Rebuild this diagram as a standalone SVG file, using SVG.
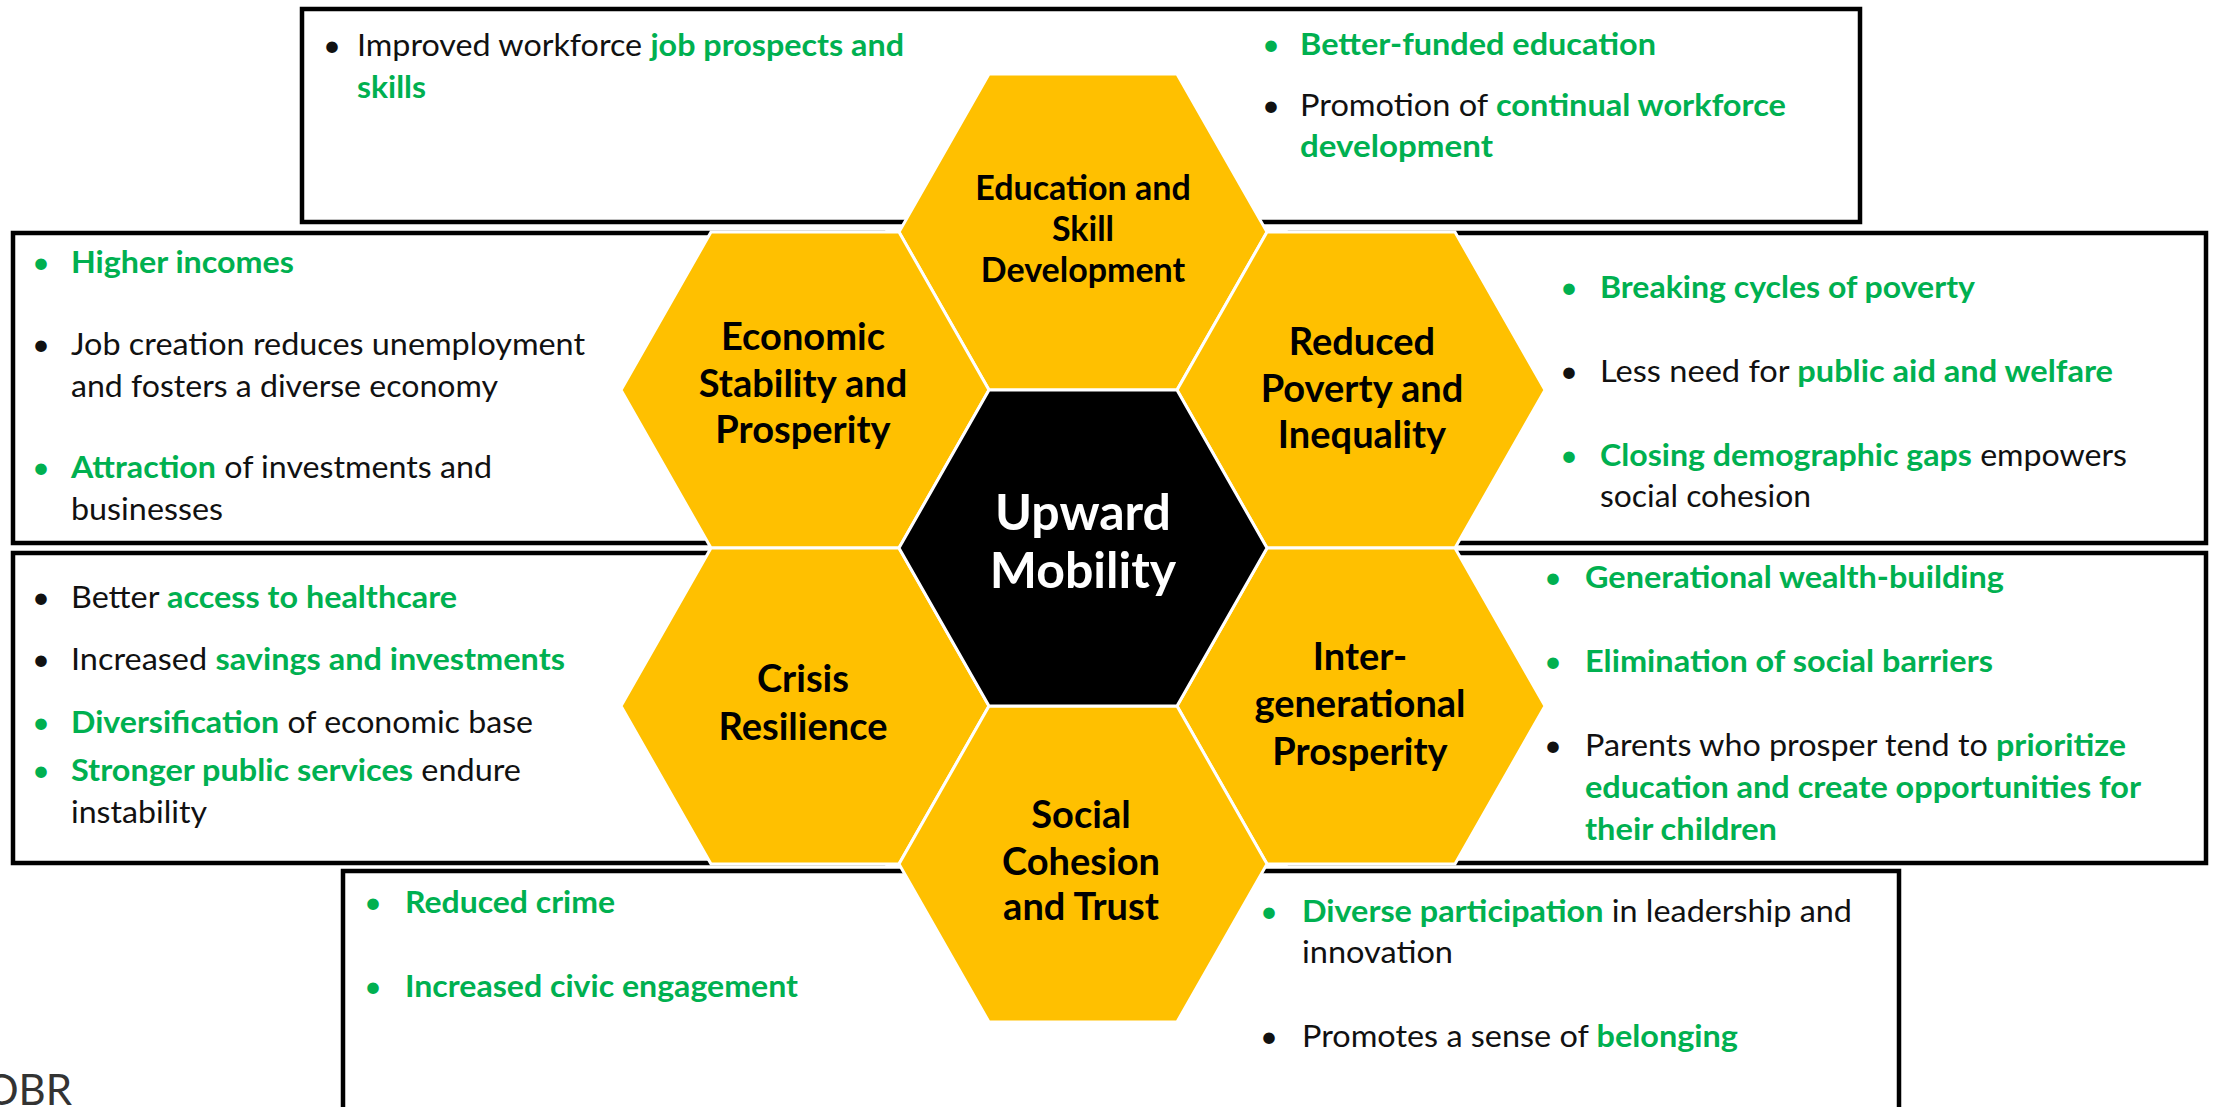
<svg xmlns="http://www.w3.org/2000/svg" width="2216" height="1107" viewBox="0 0 2216 1107">
<style>
.box{fill:#fff;stroke:#000;stroke-width:4.5}
.hex{fill:#FFC000;stroke:#fff;stroke-width:3}
.core{fill:#000;stroke:#fff;stroke-width:3}
.t{font-family:Lato,"Liberation Sans",sans-serif;font-size:31px;fill:#111}
.g{fill:#00B050;font-weight:700}
.b{font-family:Lato,"Liberation Sans",sans-serif;font-size:31px;text-anchor:middle}
.bk{fill:#111}
.bg{fill:#00B050}
.hl{font-family:Lato,"Liberation Sans",sans-serif;font-weight:700;font-size:38px;text-anchor:middle;fill:#000}
.hl.hs{font-size:34px}
.up{font-family:Lato,"Liberation Sans",sans-serif;font-weight:700;font-size:50px;text-anchor:middle;fill:#fff}
</style>
<defs>
<path id="hexshape" d="M-94,-158 L94,-158 L184,0 L94,158 L-94,158 L-184,0 Z"/>
</defs>
<rect width="2216" height="1107" fill="#fff"/>

<g id="boxes">
<g id="box-education">
<rect class="box" x="302" y="9" width="1558" height="213"/>
<text class="b bk" x="332" y="56">•</text>
<text class="t" x="357" y="56" textLength="547" lengthAdjust="spacingAndGlyphs">Improved workforce <tspan class="g">job prospects and</tspan></text>
<text class="t g" x="357" y="98" textLength="69" lengthAdjust="spacingAndGlyphs">skills</text>
<text class="b bg" x="1271" y="55">•</text>
<text class="t g" x="1300" y="55" textLength="356" lengthAdjust="spacingAndGlyphs">Better-funded education</text>
<text class="b bk" x="1271" y="116">•</text>
<text class="t" x="1300" y="116" textLength="486" lengthAdjust="spacingAndGlyphs">Promotion of <tspan class="g">continual workforce</tspan></text>
<text class="t g" x="1300" y="157" textLength="193" lengthAdjust="spacingAndGlyphs">development</text>
</g>
<g id="box-economic">
<rect class="box" x="13" y="233" width="870" height="310"/>
<text class="b bg" x="41" y="273">•</text>
<text class="t g" x="71" y="273" textLength="223" lengthAdjust="spacingAndGlyphs">Higher incomes</text>
<text class="b bk" x="41" y="355">•</text>
<text class="t" x="71" y="355" textLength="514" lengthAdjust="spacingAndGlyphs">Job creation reduces unemployment</text>
<text class="t" x="71" y="397" textLength="427" lengthAdjust="spacingAndGlyphs">and fosters a diverse economy</text>
<text class="b bg" x="41" y="478">•</text>
<text class="t" x="71" y="478" textLength="421" lengthAdjust="spacingAndGlyphs"><tspan class="g">Attraction</tspan> of investments and</text>
<text class="t" x="71" y="520" textLength="152" lengthAdjust="spacingAndGlyphs">businesses</text>
</g>
<g id="box-poverty">
<rect class="box" x="1290" y="233" width="916" height="310"/>
<text class="b bg" x="1569" y="298">•</text>
<text class="t g" x="1600" y="298" textLength="375" lengthAdjust="spacingAndGlyphs">Breaking cycles of poverty</text>
<text class="b bk" x="1569" y="382">•</text>
<text class="t" x="1600" y="382" textLength="513" lengthAdjust="spacingAndGlyphs">Less need for <tspan class="g">public aid and welfare</tspan></text>
<text class="b bg" x="1569" y="466">•</text>
<text class="t" x="1600" y="466" textLength="527" lengthAdjust="spacingAndGlyphs"><tspan class="g">Closing demographic gaps</tspan> empowers</text>
<text class="t" x="1600" y="507" textLength="211" lengthAdjust="spacingAndGlyphs">social cohesion</text>
</g>
<g id="box-crisis">
<rect class="box" x="13" y="553" width="870" height="310"/>
<text class="b bk" x="41" y="608">•</text>
<text class="t" x="71" y="608" textLength="386" lengthAdjust="spacingAndGlyphs">Better <tspan class="g">access to healthcare</tspan></text>
<text class="b bk" x="41" y="670">•</text>
<text class="t" x="71" y="670" textLength="494" lengthAdjust="spacingAndGlyphs">Increased <tspan class="g">savings and investments</tspan></text>
<text class="b bg" x="41" y="733">•</text>
<text class="t" x="71" y="733" textLength="462" lengthAdjust="spacingAndGlyphs"><tspan class="g">Diversification</tspan> of economic base</text>
<text class="b bg" x="41" y="781">•</text>
<text class="t" x="71" y="781" textLength="450" lengthAdjust="spacingAndGlyphs"><tspan class="g">Stronger public services</tspan> endure</text>
<text class="t" x="71" y="823" textLength="136" lengthAdjust="spacingAndGlyphs">instability</text>
</g>
<g id="box-intergenerational">
<rect class="box" x="1290" y="553" width="916" height="310"/>
<text class="b bg" x="1553" y="588">•</text>
<text class="t g" x="1585" y="588" textLength="419" lengthAdjust="spacingAndGlyphs">Generational wealth-building</text>
<text class="b bg" x="1553" y="672">•</text>
<text class="t g" x="1585" y="672" textLength="408" lengthAdjust="spacingAndGlyphs">Elimination of social barriers</text>
<text class="b bk" x="1553" y="756">•</text>
<text class="t" x="1585" y="756" textLength="541" lengthAdjust="spacingAndGlyphs">Parents who prosper tend to <tspan class="g">prioritize</tspan></text>
<text class="t g" x="1585" y="798" textLength="556" lengthAdjust="spacingAndGlyphs">education and create opportunities for</text>
<text class="t g" x="1585" y="840" textLength="192" lengthAdjust="spacingAndGlyphs">their children</text>
</g>
<g id="box-social">
<rect class="box" x="343" y="871" width="1556" height="260"/>
<text class="b bg" x="373" y="913">•</text>
<text class="t g" x="405" y="913" textLength="210" lengthAdjust="spacingAndGlyphs">Reduced crime</text>
<text class="b bg" x="373" y="997">•</text>
<text class="t g" x="405" y="997" textLength="393" lengthAdjust="spacingAndGlyphs">Increased civic engagement</text>
<text class="b bg" x="1269" y="922">•</text>
<text class="t" x="1302" y="922" textLength="550" lengthAdjust="spacingAndGlyphs"><tspan class="g">Diverse participation</tspan> in leadership and</text>
<text class="t" x="1302" y="963" textLength="151" lengthAdjust="spacingAndGlyphs">innovation</text>
<text class="b bk" x="1269" y="1047">•</text>
<text class="t" x="1302" y="1047" textLength="436" lengthAdjust="spacingAndGlyphs">Promotes a sense of <tspan class="g">belonging</tspan></text>
</g>
</g>

<g id="connectors"></g>

<g id="node-education">
<use href="#hexshape" class="hex" x="1083" y="232"/>
<text class="hl hs" x="1083" y="200">Education and</text>
<text class="hl hs" x="1083" y="241">Skill</text>
<text class="hl hs" x="1083" y="282">Development</text>
</g>
<g id="node-economic">
<use href="#hexshape" class="hex" x="805" y="390"/>
<text class="hl" x="803" y="350">Economic</text>
<text class="hl" x="803" y="397">Stability and</text>
<text class="hl" x="803" y="443">Prosperity</text>
</g>
<g id="node-poverty">
<use href="#hexshape" class="hex" x="1361" y="390"/>
<text class="hl" x="1362" y="355">Reduced</text>
<text class="hl" x="1362" y="402">Poverty and</text>
<text class="hl" x="1362" y="448">Inequality</text>
</g>
<g id="node-crisis">
<use href="#hexshape" class="hex" x="805" y="706"/>
<text class="hl" x="803" y="692">Crisis</text>
<text class="hl" x="803" y="740">Resilience</text>
</g>
<g id="node-intergenerational">
<use href="#hexshape" class="hex" x="1361" y="706"/>
<text class="hl" x="1360" y="670">Inter-</text>
<text class="hl" x="1360" y="717">generational</text>
<text class="hl" x="1360" y="765">Prosperity</text>
</g>
<g id="node-social">
<use href="#hexshape" class="hex" x="1083" y="864"/>
<text class="hl" x="1081" y="828">Social</text>
<text class="hl" x="1081" y="875">Cohesion</text>
<text class="hl" x="1081" y="920">and Trust</text>
</g>
<g id="node-upward">
<use href="#hexshape" class="core" x="1083" y="548"/>
<text class="up" x="1083" y="530">Upward</text>
<text class="up" x="1083" y="588">Mobility</text>
</g>

<text x="-15" y="1105" font-family="Lato,'Liberation Sans',sans-serif" font-size="42" fill="#333">OBR</text>
</svg>
